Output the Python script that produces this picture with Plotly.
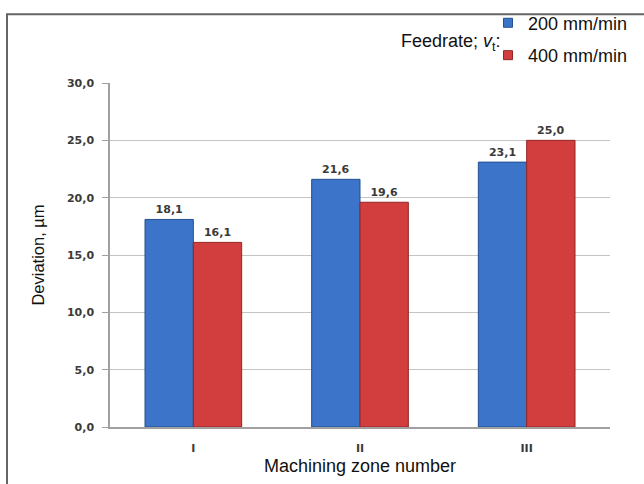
import plotly.graph_objects as go

zones = ["I", "II", "III"]
feed_200 = [18.1, 21.6, 23.1]
feed_400 = [16.1, 19.6, 25.0]
y_ticks = [0, 5, 10, 15, 20, 25, 30]

series = [
    ("200 mm/min", feed_200, "#3b74c8", "#25508f"),
    ("400 mm/min", feed_400, "#d23e3e", "#922626"),
]

label_font = dict(family="DejaVu Sans", size=11, color="#3a3a3a")
title_font = dict(family="Liberation Sans", size=18, color="#111")

fig = go.Figure()
for i, (name, vals, fill, edge) in enumerate(series):
    fig.add_trace(go.Bar(
        x=zones, y=vals, name=name, showlegend=False,
        marker=dict(color=fill, line=dict(color=edge, width=1)),
        text=["<b>" + f"{v:.1f}".replace(".", ",") + "</b>" for v in vals],
        textposition="outside", textfont=label_font, cliponaxis=False,
    ))
    # compact square legend key
    fig.add_trace(go.Scatter(
        x=[None], y=[None], mode="markers", name=name, legendgroup=f"g{i}",
        marker=dict(symbol="square", size=9, color=fill,
                    line=dict(color=edge, width=1)),
    ))

fig.update_layout(
    width=644, height=484,
    margin=dict(l=110, r=34, t=83, b=57, autoexpand=False),
    paper_bgcolor="white", plot_bgcolor="white",
    barmode="group", bargap=0.42, bargroupgap=0,
    separators=", ",
    font=dict(family="Liberation Sans", color="#222"),
    legend=dict(
        x=0.756, xanchor="left", y=1.228, yanchor="top",
        font=title_font, tracegroupgap=6, itemwidth=30,
        bgcolor="rgba(0,0,0,0)",
    ),
    xaxis=dict(
        showline=True, linecolor="#a0a0a0", linewidth=1.5,
        ticks="", tickfont=label_font, ticklabelstandoff=10,
        tickvals=zones, ticktext=["<b>" + z + "</b>" for z in zones],
        title=dict(text="Machining zone number", standoff=5, font=title_font),
    ),
    yaxis=dict(
        range=[0, 30], tickvals=y_ticks,
        ticktext=["<b>" + f"{v:.1f}".replace(".", ",") + "</b>" for v in y_ticks],
        showline=True, linecolor="#a0a0a0", linewidth=1.5,
        ticks="outside", ticklen=6, tickcolor="#a0a0a0",
        ticklabelstandoff=6,
        showgrid=True, gridcolor="#c4c4c4", gridwidth=1,
        tickfont=label_font, zeroline=False,
        title=dict(text="Deviation, µm", standoff=18,
                   font=dict(family="Liberation Sans", size=16.5, color="#111")),
    ),
    annotations=[dict(
        text="Feedrate; <i>v</i><sub>t</sub>:", xref="paper", yref="paper",
        x=0.786, y=1.119, xanchor="right", yanchor="middle", showarrow=False,
        font=title_font,
    )],
    shapes=[
        # outer frame: only its top and left edges fall inside the page
        dict(type="rect", xref="paper", yref="paper", layer="above",
             x0=-0.206, x1=1.3, y0=-0.3, y1=1.2,
             line=dict(color="#666666", width=2), fillcolor="rgba(0,0,0,0)"),
    ],
)

fig.write_html("out.html", config={"displayModeBar": False})
